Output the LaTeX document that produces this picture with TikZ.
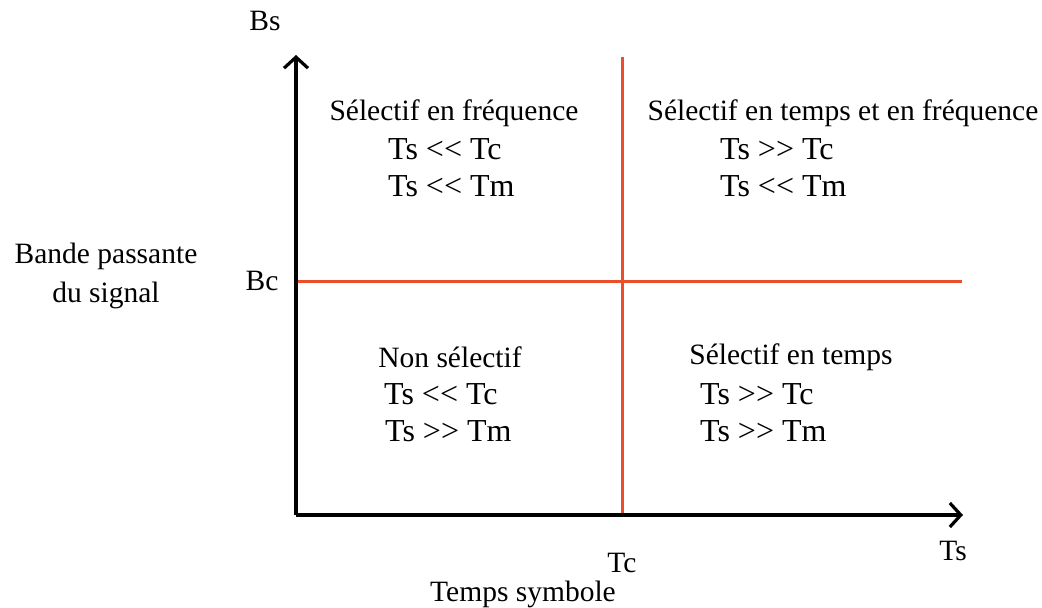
\documentclass[tikz,border=0pt]{standalone}
\usepackage{fontspec}
\setmainfont{Liberation Serif}[Ligatures=TeXOff]
\usetikzlibrary{arrows.meta}
\definecolor{axred}{RGB}{236,78,42}
\tikzset{
  axis/.style={line width=3.4pt, -{Straight Barb[length=11pt,width=24pt,line width=3.2pt]}},
  grid/.style={line width=3pt, axred},
  lbl/.style={inner sep=0pt, font=\fontsize{29.5}{34}\selectfont},
  qlbl/.style={inner sep=0pt, anchor=west, font=\fontsize{32}{36}\selectfont},
}
\begin{document}
\begin{tikzpicture}[x=1pt,y=1pt]
\useasboundingbox (0,0) rectangle (1042,608);
% axes
\coordinate (O) at (296,93);
\coordinate (ytip) at (296,553);
\coordinate (xtip) at (963,93);
\coordinate (vtop) at (622,551);
\coordinate (vbot) at (622,93);
\coordinate (hl) at (296,326);
\coordinate (hr) at (962,326);
\draw[grid] (vbot) -- (vtop);
\draw[grid] (hl) -- (hr);
\draw[axis] (O) -- (ytip);
\draw[axis] (O) -- (xtip);
% axis labels
\node[lbl] (bs) at (265,587) {Bs};
\node[lbl] (bc) at (262,327) {Bc};
\node[lbl] (bp1) at (106,352) {Bande passante};
\node[lbl] (bp2) at (106,313) {du signal};
\node[lbl] (tc) at (622,45) {Tc};
\node[lbl] (ts) at (953,57) {Ts};
\node[lbl] (tsym) at (523,14) {Temps symbole};
% top-left
\node[lbl] (q1t) at (454,495) {Sélectif en fréquence};
\node[qlbl] (q1a) at (388,459) {Ts <\kern0pt< Tc};
\node[qlbl] (q1b) at (388,422) {Ts <\kern0pt< Tm};
% top-right
\node[lbl] (q2t) at (843,495) {Sélectif en temps et en fréquence};
\node[qlbl] (q2a) at (720,459) {Ts >\kern0pt> Tc};
\node[qlbl] (q2b) at (720,422) {Ts <\kern0pt< Tm};
% bottom-left
\node[lbl] (q3t) at (450,251) {Non sélectif};
\node[qlbl] (q3a) at (384,214) {Ts <\kern0pt< Tc};
\node[qlbl] (q3b) at (385,177) {Ts >\kern0pt> Tm};
% bottom-right
\node[lbl] (q4t) at (791,251) {Sélectif en temps};
\node[qlbl] (q4a) at (700,214) {Ts >\kern0pt> Tc};
\node[qlbl] (q4b) at (700,177) {Ts >\kern0pt> Tm};
\end{tikzpicture}
\end{document}
